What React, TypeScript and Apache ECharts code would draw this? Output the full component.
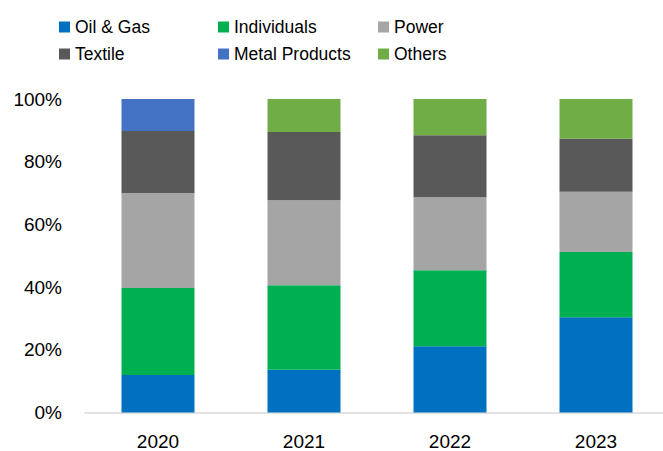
import React, { useEffect, useRef } from "react";
import * as echarts from "echarts";

const categories = ["2020", "2021", "2022", "2023"];
const oilGas = [12, 13.6, 21.1, 30.4];
const individuals = [27.7, 27.0, 24.3, 20.8];
const power = [30.3, 27.1, 23.3, 19.2];
const textile = [19.8, 21.8, 19.7, 16.9];
const metalProducts = [10.2, 0, 0, 0];
const others = [0, 10.5, 11.6, 12.7];

const seriesNames = ["Oil & Gas", "Individuals", "Power", "Textile", "Metal Products", "Others"];
const seriesData = [oilGas, individuals, power, textile, metalProducts, others];
const colors = ["#0070C0", "#00B050", "#A5A5A5", "#595959", "#4472C4", "#70AD47"];

const FONT = "'Liberation Sans', Arial, sans-serif";

export default function App() {
  const ref = useRef<HTMLDivElement>(null);
  useEffect(() => {
    if (!ref.current) return;
    const chart = echarts.init(ref.current, null, { renderer: "svg" });
    const legendBase = {
      orient: "vertical" as const,
      top: 17,
      itemWidth: 11,
      itemHeight: 11,
      itemGap: 7,
      icon: "rect",
      padding: 0,
      selectedMode: false,
      textStyle: { fontSize: 17.5, color: "#000", fontFamily: FONT, lineHeight: 20 },
    };
    chart.setOption({
      animation: false,
      color: colors,
      textStyle: { fontFamily: FONT },
      legend: [
        { ...legendBase, left: 59, data: ["Oil & Gas", "Textile"] },
        { ...legendBase, left: 218, data: ["Individuals", "Metal Products"] },
        { ...legendBase, left: 378, data: ["Power", "Others"] },
      ],
      grid: { left: 85, right: 3, top: 99, bottom: 38.5, containLabel: false },
      xAxis: {
        type: "category",
        data: categories,
        axisLine: { lineStyle: { color: "#D9D9D9", width: 1.5 } },
        axisTick: { show: false },
        axisLabel: { fontSize: 19, color: "#000", margin: 19, fontFamily: FONT },
      },
      yAxis: {
        type: "value",
        min: 0,
        max: 100,
        interval: 20,
        splitLine: { show: false },
        axisLine: { show: false },
        axisTick: { show: false },
        axisLabel: { fontSize: 19, color: "#000", margin: 23, formatter: "{value}%", fontFamily: FONT },
      },
      series: seriesNames.map((name, i) => ({
        name,
        type: "bar",
        stack: "total",
        barWidth: 73,
        data: seriesData[i],
        itemStyle: { color: colors[i] },
      })),
    });
    return () => chart.dispose();
  }, []);
  return (
    <div style={{ position: "absolute", left: 0, top: 0, width: 663, height: 451, overflow: "hidden" }}>
      <div ref={ref} style={{ width: 672, height: 451 }} />
    </div>
  );
}
